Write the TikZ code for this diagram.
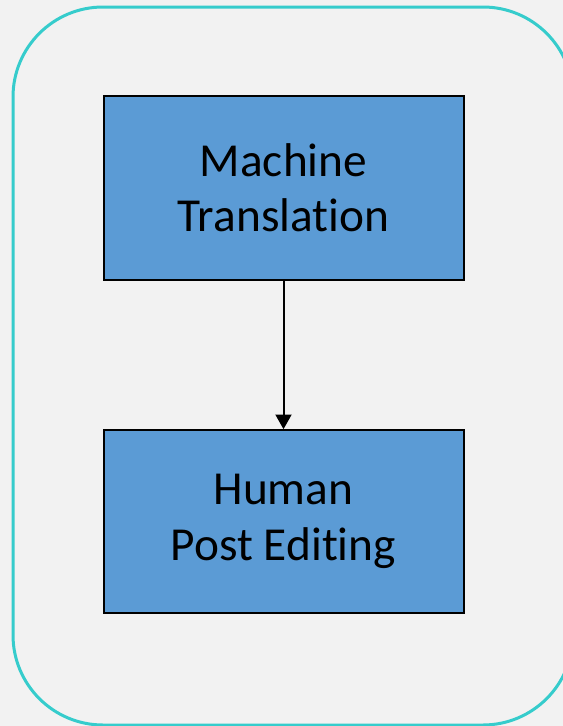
\documentclass[tikz,border=0pt]{standalone}
\usepackage{fontspec}
\setmainfont[Ligatures=NoCommon]{Carlito}
\usepackage{tikz}
\usetikzlibrary{arrows.meta}
\definecolor{cus-bg}{RGB}{242,242,242}
\definecolor{cus-teal}{RGB}{54,204,204}
\definecolor{cus-blue}{RGB}{91,155,213}

\begin{document}
\begin{tikzpicture}[x=0.75pt, y=-0.75pt,
	stagebox/.style={draw=black, line width=1.5pt, fill=cus-blue, rectangle,
		minimum width=270pt, align=center,
		font=\fontsize{35.5}{41.5}\selectfont}]
\useasboundingbox (0,0) rectangle (563,726);
\fill [cus-bg] (0,0) rectangle (563,726);
\clip (0,0) rectangle (563,726);
% outer frame, partly off the page
\draw [cus-teal, line width=2.25pt, rounded corners=67.5pt] (13,7) rectangle (573,725);
\node [stagebox, minimum height=138pt] (mt) at (283.5,188) {Machine\\Translation};
\node [stagebox, minimum height=137pt] (pe) at (283.5,521.5) {Human\\Post Editing};
\draw [line width=1.5pt, -{Triangle[length=11pt, width=12pt]}] (mt) -- (pe);
\end{tikzpicture}
\end{document}
